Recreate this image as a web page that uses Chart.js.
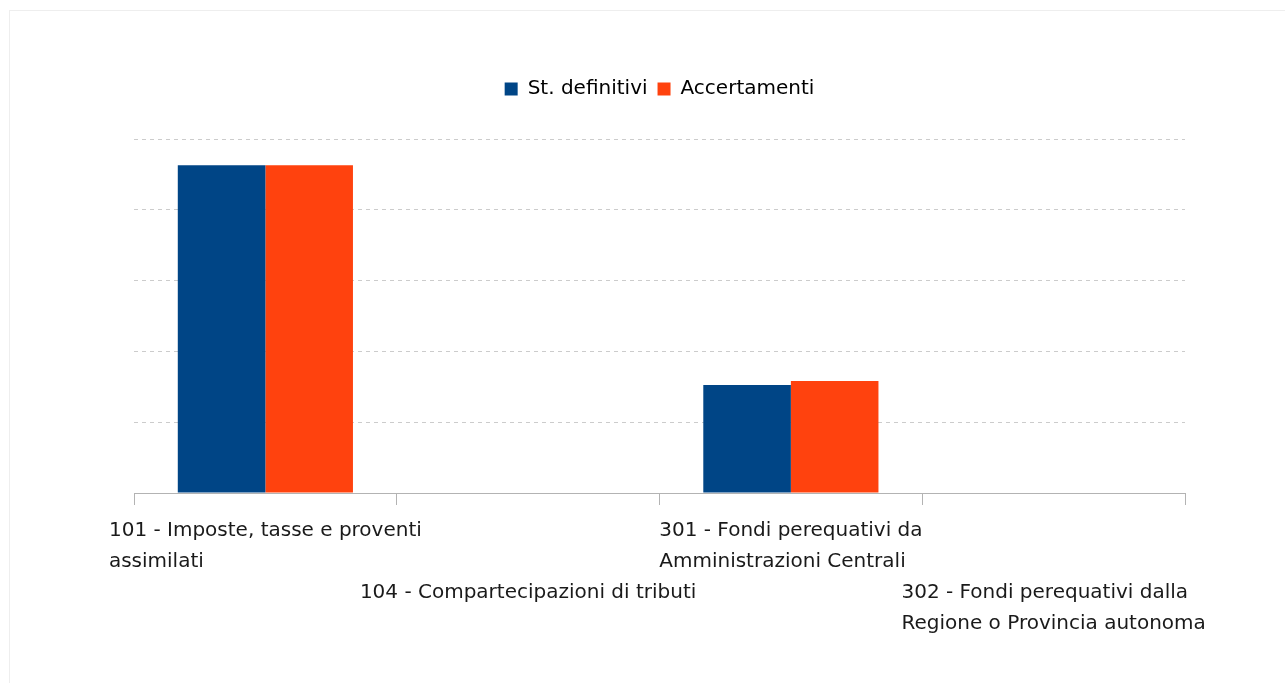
<!DOCTYPE html>
<html>
<head>
<meta charset="utf-8">
<script src="https://cdn.jsdelivr.net/npm/chart.js@4"></script>
<style>
  html, body { margin: 0; padding: 0; background: #fff; }
  #wrap { width: 1285px; height: 683px; position: relative; }
</style>
</head>
<body>
<div id="wrap"><canvas id="chart"></canvas></div>
<script>
const categories = [
  '101 - Imposte, tasse e proventi assimilati',
  '104 - Compartecipazioni di tributi',
  '301 - Fondi perequativi da Amministrazioni Centrali',
  '302 - Fondi perequativi dalla Regione o Provincia autonoma'
];
// how the category labels wrap and which row they start on
const labelLines = [
  ['101 - Imposte, tasse e proventi', 'assimilati'],
  ['104 - Compartecipazioni di tributi'],
  ['301 - Fondi perequativi da', 'Amministrazioni Centrali'],
  ['302 - Fondi perequativi dalla', 'Regione o Provincia autonoma']
];
const labelRow = [0, 2, 0, 2];

const stDefinitivi = [4.63, null, 1.525, null];
const accertamenti = [4.63, null, 1.582, null];

const FONT = 'DejaVu Sans';

// pushes the plot area down a bit below the legend
const legendGap = {
  id: 'legendGap',
  afterInit(chart) {
    const fit = chart.legend.fit;
    chart.legend.fit = function() {
      fit.call(this);
      this.height += 30;
    };
  }
};

const frame = {
  id: 'frame',
  beforeDraw(chart) {
    const ctx = chart.ctx;
    ctx.save();
    ctx.strokeStyle = '#eeeeee';
    ctx.lineWidth = 1;
    ctx.strokeRect(9.5, 10.5, chart.width + 20, chart.height + 20);
    ctx.restore();
  }
};

// category labels: left aligned block, centred under each category
const xLabels = {
  id: 'xLabels',
  afterDraw(chart) {
    const ctx = chart.ctx;
    const x = chart.scales.x;
    ctx.save();
    ctx.font = '20px "' + FONT + '"';
    ctx.fillStyle = '#1a1a1a';
    ctx.textAlign = 'left';
    ctx.textBaseline = 'middle';
    labelLines.forEach((lines, i) => {
      const cx = x.getPixelForValue(i);
      const w = Math.max(...lines.map(l => ctx.measureText(l).width));
      const left = cx - w / 2;
      lines.forEach((l, j) => {
        ctx.fillText(l, left, x.top + 38 + (labelRow[i] + j) * 31);
      });
    });
    ctx.restore();
  }
};

new Chart(document.getElementById('chart'), {
  type: 'bar',
  data: {
    labels: categories,
    datasets: [
      { label: 'St. definitivi', data: stDefinitivi, backgroundColor: '#004586' },
      { label: 'Accertamenti', data: accertamenti, backgroundColor: '#ff420e' }
    ]
  },
  options: {
    responsive: true,
    maintainAspectRatio: false,
    animation: false,
    layout: { padding: { top: 69, left: 134, right: 100, bottom: 0 } },
    datasets: {
      bar: { categoryPercentage: 2 / 3, barPercentage: 1 }
    },
    plugins: {
      legend: {
        position: 'top',
        labels: {
          boxWidth: 13,
          boxHeight: 13,
          padding: 10,
          color: '#000',
          font: { family: FONT, size: 20 }
        }
      },
      tooltip: { enabled: false }
    },
    scales: {
      x: {
        ticks: { display: false },
        grid: { drawOnChartArea: false, tickLength: 12, color: '#b3b3b3', offset: true },
        border: { color: '#b3b3b3' },
        afterFit(s) { s.height = 190; }
      },
      y: {
        min: 0,
        max: 5,
        ticks: { display: false, stepSize: 1 },
        grid: {
          drawTicks: false,
          color: c => c.tick.value === 0 ? 'rgba(0,0,0,0)' : '#cccccc'
        },
        border: { display: false, dash: [4, 4] }
      }
    }
  },
  plugins: [legendGap, frame, xLabels]
});
</script>
</body>
</html>
